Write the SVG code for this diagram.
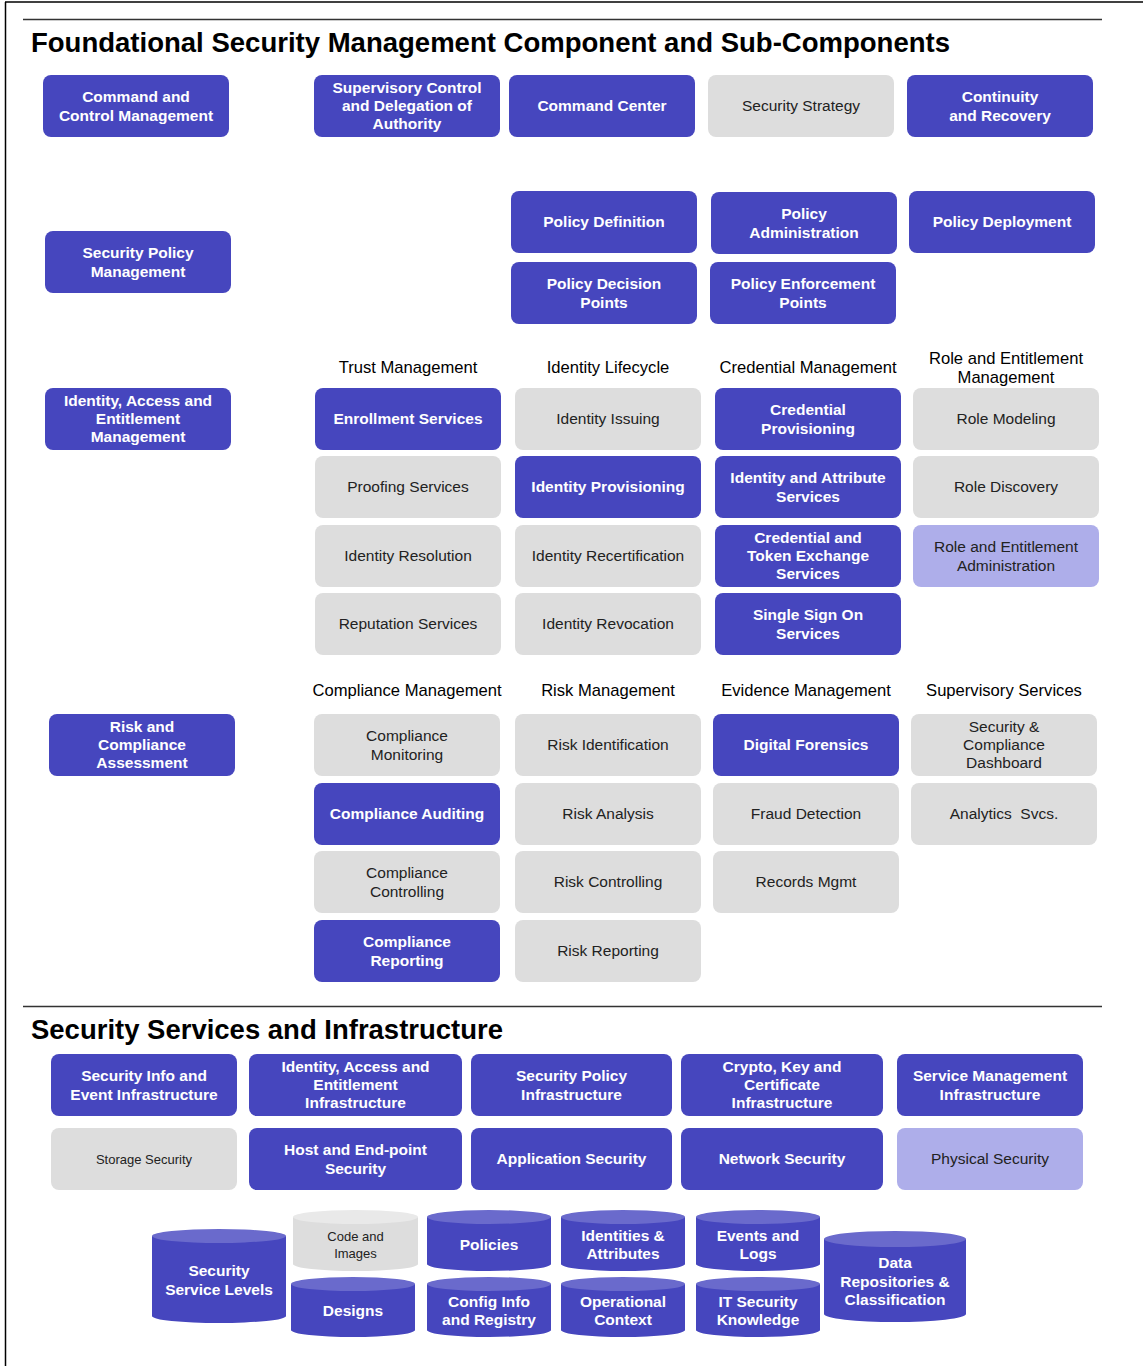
<svg xmlns="http://www.w3.org/2000/svg" width="1143" height="1366" viewBox="0 0 1143 1366">
<style>
.b{fill:#4646be}
.g{fill:#dddddd}
.p{fill:#aeaeea}
.w{font-family:"Liberation Sans",Arial,sans-serif;font-size:15.5px;font-weight:bold;fill:#ffffff;text-anchor:middle}
.k{font-family:"Liberation Sans",Arial,sans-serif;font-size:15.5px;fill:#222222;text-anchor:middle}
.s{font-family:"Liberation Sans",Arial,sans-serif;font-size:13px;fill:#222222;text-anchor:middle}
.h{font-family:"Liberation Sans",Arial,sans-serif;font-size:16.6px;fill:#000000;text-anchor:middle}
.t{font-family:"Liberation Sans",Arial,sans-serif;font-size:28px;font-weight:bold;fill:#000000}
.ct{fill:#6a6acc}
.gt{fill:#e9e9e9}
</style>
<rect width="1143" height="1366" fill="#ffffff"/>
<g id="frame" fill="none" stroke="#000" stroke-width="1.5">
<line x1="5" y1="2" x2="1143" y2="2"/>
<line x1="5.5" y1="2" x2="5.5" y2="1366"/>
<line x1="23" y1="19.5" x2="1102" y2="19.5" stroke="#333"/>
<line x1="23" y1="1006.5" x2="1102" y2="1006.5" stroke="#333"/>
</g>
<text class="t" x="31" y="52" textLength="919" lengthAdjust="spacingAndGlyphs">Foundational Security Management Component and Sub-Components</text>
<text class="t" x="31" y="1039" textLength="472" lengthAdjust="spacingAndGlyphs">Security Services and Infrastructure</text>

<g id="headers">
<text class="h" x="408" y="373">Trust Management</text>
<text class="h" x="608" y="373">Identity Lifecycle</text>
<text class="h" x="808" y="373">Credential Management</text>
<text class="h" x="1006" y="364">Role and Entitlement</text>
<text class="h" x="1006" y="383">Management</text>
<text class="h" x="407" y="696">Compliance Management</text>
<text class="h" x="608" y="696">Risk Management</text>
<text class="h" x="806" y="696">Evidence Management</text>
<text class="h" x="1004" y="696">Supervisory Services</text>
</g>

<g id="n-cmd"><rect class="b" x="43" y="75" width="186" height="62" rx="8"/><text class="w" x="136" y="102">Command and</text><text class="w" x="136" y="120.5">Control Management</text></g>
<g id="n-sup"><rect class="b" x="314" y="75" width="186" height="62" rx="8"/><text class="w" x="407" y="93">Supervisory Control</text><text class="w" x="407" y="111">and Delegation of</text><text class="w" x="407" y="129">Authority</text></g>
<g id="n-cc"><rect class="b" x="509" y="75" width="186" height="62" rx="8"/><text class="w" x="602" y="111">Command Center</text></g>
<g id="n-ss"><rect class="g" x="708" y="75" width="186" height="62" rx="8"/><text class="k" x="801" y="111">Security Strategy</text></g>
<g id="n-cr"><rect class="b" x="907" y="75" width="186" height="62" rx="8"/><text class="w" x="1000" y="102">Continuity</text><text class="w" x="1000" y="120.5">and Recovery</text></g>

<g id="n-spm"><rect class="b" x="45" y="231" width="186" height="62" rx="8"/><text class="w" x="138" y="258">Security Policy</text><text class="w" x="138" y="276.5">Management</text></g>
<g id="n-pdef"><rect class="b" x="511" y="191" width="186" height="62" rx="8"/><text class="w" x="604" y="227">Policy Definition</text></g>
<g id="n-padm"><rect class="b" x="711" y="192" width="186" height="62" rx="8"/><text class="w" x="804" y="219">Policy</text><text class="w" x="804" y="237.5">Administration</text></g>
<g id="n-pdep"><rect class="b" x="909" y="191" width="186" height="62" rx="8"/><text class="w" x="1002" y="227">Policy Deployment</text></g>
<g id="n-pdp"><rect class="b" x="511" y="262" width="186" height="62" rx="8"/><text class="w" x="604" y="289">Policy Decision</text><text class="w" x="604" y="307.5">Points</text></g>
<g id="n-pep"><rect class="b" x="710" y="262" width="186" height="62" rx="8"/><text class="w" x="803" y="289">Policy Enforcement</text><text class="w" x="803" y="307.5">Points</text></g>

<g id="n-iam"><rect class="b" x="45" y="388" width="186" height="62" rx="8"/><text class="w" x="138" y="406">Identity, Access and</text><text class="w" x="138" y="424">Entitlement</text><text class="w" x="138" y="442">Management</text></g>
<g id="n-enr"><rect class="b" x="315" y="388" width="186" height="62" rx="8"/><text class="w" x="408" y="424">Enrollment Services</text></g>
<g id="n-proof"><rect class="g" x="315" y="456" width="186" height="62" rx="8"/><text class="k" x="408" y="492">Proofing Services</text></g>
<g id="n-ires"><rect class="g" x="315" y="525" width="186" height="62" rx="8"/><text class="k" x="408" y="561">Identity Resolution</text></g>
<g id="n-rep"><rect class="g" x="315" y="593" width="186" height="62" rx="8"/><text class="k" x="408" y="629">Reputation Services</text></g>
<g id="n-iiss"><rect class="g" x="515" y="388" width="186" height="62" rx="8"/><text class="k" x="608" y="424">Identity Issuing</text></g>
<g id="n-iprov"><rect class="b" x="515" y="456" width="186" height="62" rx="8"/><text class="w" x="608" y="492">Identity Provisioning</text></g>
<g id="n-irec"><rect class="g" x="515" y="525" width="186" height="62" rx="8"/><text class="k" x="608" y="561">Identity Recertification</text></g>
<g id="n-irev"><rect class="g" x="515" y="593" width="186" height="62" rx="8"/><text class="k" x="608" y="629">Identity Revocation</text></g>
<g id="n-cprov"><rect class="b" x="715" y="388" width="186" height="62" rx="8"/><text class="w" x="808" y="415">Credential</text><text class="w" x="808" y="433.5">Provisioning</text></g>
<g id="n-ias"><rect class="b" x="715" y="456" width="186" height="62" rx="8"/><text class="w" x="808" y="483">Identity and Attribute</text><text class="w" x="808" y="501.5">Services</text></g>
<g id="n-ctes"><rect class="b" x="715" y="525" width="186" height="62" rx="8"/><text class="w" x="808" y="543">Credential and</text><text class="w" x="808" y="561">Token Exchange</text><text class="w" x="808" y="579">Services</text></g>
<g id="n-sso"><rect class="b" x="715" y="593" width="186" height="62" rx="8"/><text class="w" x="808" y="620">Single Sign On</text><text class="w" x="808" y="638.5">Services</text></g>
<g id="n-rmod"><rect class="g" x="913" y="388" width="186" height="62" rx="8"/><text class="k" x="1006" y="424">Role Modeling</text></g>
<g id="n-rdis"><rect class="g" x="913" y="456" width="186" height="62" rx="8"/><text class="k" x="1006" y="492">Role Discovery</text></g>
<g id="n-rea"><rect class="p" x="913" y="525" width="186" height="62" rx="8"/><text class="k" x="1006" y="552">Role and Entitlement</text><text class="k" x="1006" y="570.5">Administration</text></g>

<g id="n-rca"><rect class="b" x="49" y="714" width="186" height="62" rx="8"/><text class="w" x="142" y="732">Risk and</text><text class="w" x="142" y="750">Compliance</text><text class="w" x="142" y="768">Assessment</text></g>
<g id="n-cmon"><rect class="g" x="314" y="714" width="186" height="62" rx="8"/><text class="k" x="407" y="741">Compliance</text><text class="k" x="407" y="759.5">Monitoring</text></g>
<g id="n-caud"><rect class="b" x="314" y="783" width="186" height="62" rx="8"/><text class="w" x="407" y="819">Compliance Auditing</text></g>
<g id="n-cctl"><rect class="g" x="314" y="851" width="186" height="62" rx="8"/><text class="k" x="407" y="878">Compliance</text><text class="k" x="407" y="896.5">Controlling</text></g>
<g id="n-crep"><rect class="b" x="314" y="920" width="186" height="62" rx="8"/><text class="w" x="407" y="947">Compliance</text><text class="w" x="407" y="965.5">Reporting</text></g>
<g id="n-rid"><rect class="g" x="515" y="714" width="186" height="62" rx="8"/><text class="k" x="608" y="750">Risk Identification</text></g>
<g id="n-ran"><rect class="g" x="515" y="783" width="186" height="62" rx="8"/><text class="k" x="608" y="819">Risk Analysis</text></g>
<g id="n-rctl"><rect class="g" x="515" y="851" width="186" height="62" rx="8"/><text class="k" x="608" y="887">Risk Controlling</text></g>
<g id="n-rrep"><rect class="g" x="515" y="920" width="186" height="62" rx="8"/><text class="k" x="608" y="956">Risk Reporting</text></g>
<g id="n-df"><rect class="b" x="713" y="714" width="186" height="62" rx="8"/><text class="w" x="806" y="750">Digital Forensics</text></g>
<g id="n-fd"><rect class="g" x="713" y="783" width="186" height="62" rx="8"/><text class="k" x="806" y="819">Fraud Detection</text></g>
<g id="n-rm"><rect class="g" x="713" y="851" width="186" height="62" rx="8"/><text class="k" x="806" y="887">Records Mgmt</text></g>
<g id="n-scd"><rect class="g" x="911" y="714" width="186" height="62" rx="8"/><text class="k" x="1004" y="732">Security &amp;</text><text class="k" x="1004" y="750">Compliance</text><text class="k" x="1004" y="768">Dashboard</text></g>
<g id="n-an"><rect class="g" x="911" y="783" width="186" height="62" rx="8"/><text class="k" x="1004" y="819" xml:space="preserve">Analytics  Svcs.</text></g>

<g id="n-siei"><rect class="b" x="51" y="1054" width="186" height="62" rx="8"/><text class="w" x="144" y="1081">Security Info and</text><text class="w" x="144" y="1099.5">Event Infrastructure</text></g>
<g id="n-iaei"><rect class="b" x="249" y="1054" width="213" height="62" rx="8"/><text class="w" x="355.5" y="1072">Identity, Access and</text><text class="w" x="355.5" y="1090">Entitlement</text><text class="w" x="355.5" y="1108">Infrastructure</text></g>
<g id="n-spi"><rect class="b" x="471" y="1054" width="201" height="62" rx="8"/><text class="w" x="571.5" y="1081">Security Policy</text><text class="w" x="571.5" y="1099.5">Infrastructure</text></g>
<g id="n-ckci"><rect class="b" x="681" y="1054" width="202" height="62" rx="8"/><text class="w" x="782" y="1072">Crypto, Key and</text><text class="w" x="782" y="1090">Certificate</text><text class="w" x="782" y="1108">Infrastructure</text></g>
<g id="n-smi"><rect class="b" x="897" y="1054" width="186" height="62" rx="8"/><text class="w" x="990" y="1081">Service Management</text><text class="w" x="990" y="1099.5">Infrastructure</text></g>
<g id="n-stor"><rect class="g" x="51" y="1128" width="186" height="62" rx="8"/><text class="s" x="144" y="1164">Storage Security</text></g>
<g id="n-host"><rect class="b" x="249" y="1128" width="213" height="62" rx="8"/><text class="w" x="355.5" y="1155">Host and End-point</text><text class="w" x="355.5" y="1173.5">Security</text></g>
<g id="n-app"><rect class="b" x="471" y="1128" width="201" height="62" rx="8"/><text class="w" x="571.5" y="1164">Application Security</text></g>
<g id="n-net"><rect class="b" x="681" y="1128" width="202" height="62" rx="8"/><text class="w" x="782" y="1164">Network Security</text></g>
<g id="n-phys"><rect class="p" x="897" y="1128" width="186" height="62" rx="8"/><text class="k" x="990" y="1164">Physical Security</text></g>

<g id="c-ssl"><path class="b" d="M152,1236 V1316 A67,7 0 0 0 286,1316 V1236 Z"/><ellipse class="ct" cx="219" cy="1236" rx="67" ry="7"/><text class="w" x="219" y="1276">Security</text><text class="w" x="219" y="1295">Service Levels</text></g>
<g id="c-code"><path class="g" d="M293,1217 V1264 A62.5,7 0 0 0 418,1264 V1217 Z"/><ellipse class="gt" cx="355.5" cy="1217" rx="62.5" ry="7"/><text class="s" x="355.5" y="1241">Code and</text><text class="s" x="355.5" y="1258">Images</text></g>
<g id="c-des"><path class="b" d="M291,1284 V1330 A62,7 0 0 0 415,1330 V1284 Z"/><ellipse class="ct" cx="353" cy="1284" rx="62" ry="7"/><text class="w" x="353" y="1316">Designs</text></g>
<g id="c-pol"><path class="b" d="M427,1217 V1264 A62,7 0 0 0 551,1264 V1217 Z"/><ellipse class="ct" cx="489" cy="1217" rx="62" ry="7"/><text class="w" x="489" y="1250">Policies</text></g>
<g id="c-cfg"><path class="b" d="M427,1284 V1330 A62,7 0 0 0 551,1330 V1284 Z"/><ellipse class="ct" cx="489" cy="1284" rx="62" ry="7"/><text class="w" x="489" y="1307">Config Info</text><text class="w" x="489" y="1325">and Registry</text></g>
<g id="c-ida"><path class="b" d="M561,1217 V1264 A62,7 0 0 0 685,1264 V1217 Z"/><ellipse class="ct" cx="623" cy="1217" rx="62" ry="7"/><text class="w" x="623" y="1241">Identities &amp;</text><text class="w" x="623" y="1259">Attributes</text></g>
<g id="c-opc"><path class="b" d="M561,1284 V1330 A62,7 0 0 0 685,1330 V1284 Z"/><ellipse class="ct" cx="623" cy="1284" rx="62" ry="7"/><text class="w" x="623" y="1307">Operational</text><text class="w" x="623" y="1325">Context</text></g>
<g id="c-evl"><path class="b" d="M696,1217 V1264 A62,7 0 0 0 820,1264 V1217 Z"/><ellipse class="ct" cx="758" cy="1217" rx="62" ry="7"/><text class="w" x="758" y="1241">Events and</text><text class="w" x="758" y="1259">Logs</text></g>
<g id="c-itk"><path class="b" d="M696,1284 V1330 A62,7 0 0 0 820,1330 V1284 Z"/><ellipse class="ct" cx="758" cy="1284" rx="62" ry="7"/><text class="w" x="758" y="1307">IT Security</text><text class="w" x="758" y="1325">Knowledge</text></g>
<g id="c-drc"><path class="b" d="M824,1239 V1314 A71,8 0 0 0 966,1314 V1239 Z"/><ellipse class="ct" cx="895" cy="1239" rx="71" ry="8"/><text class="w" x="895" y="1268">Data</text><text class="w" x="895" y="1287">Repositories &amp;</text><text class="w" x="895" y="1305">Classification</text></g>

<g id="connectors"></g>
</svg>
